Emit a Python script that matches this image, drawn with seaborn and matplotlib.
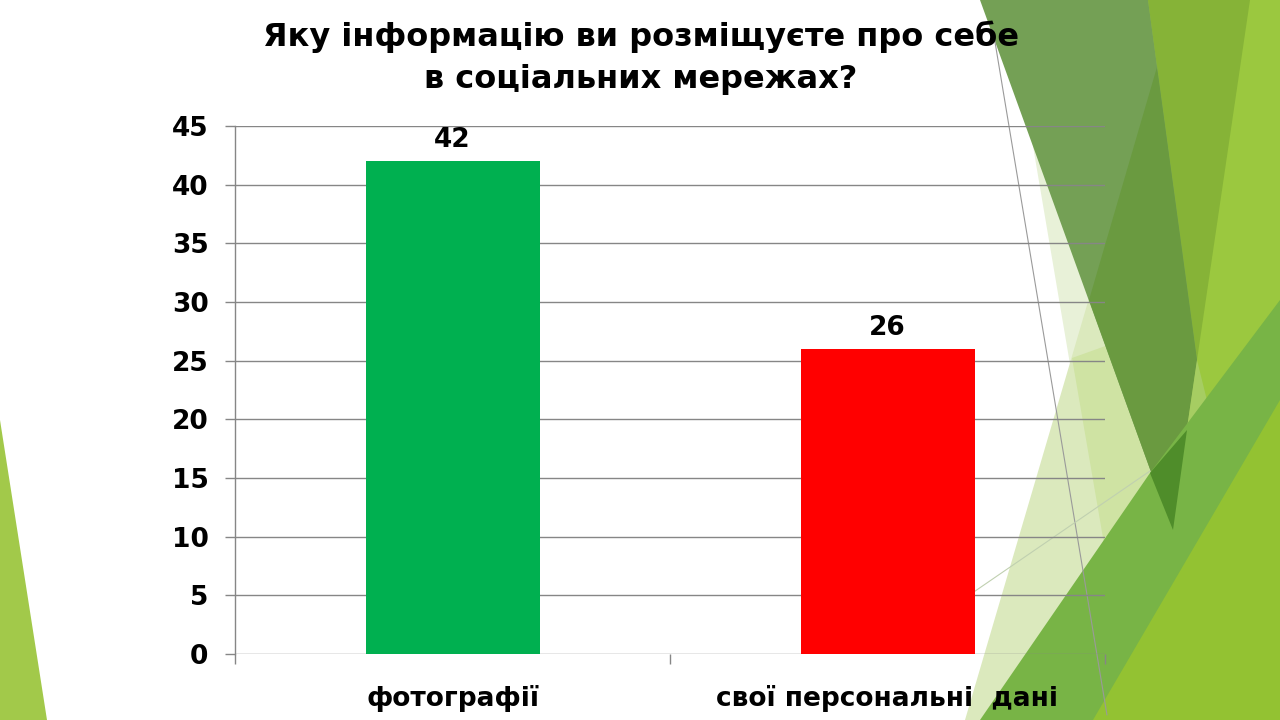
import matplotlib
matplotlib.use('Agg')
import matplotlib.pyplot as plt
from matplotlib.patches import Polygon
import seaborn as sns

title = 'Яку інформацію ви розміщуєте про себе\nв соціальних мережах?'
categories = ['фотографії', 'свої персональні  дані']
values = [42, 26]
bar_colors = ['#00b050', '#ff0000']
y_ticks = [0, 5, 10, 15, 20, 25, 30, 35, 40, 45]

sns.set_theme(style='white')
plt.rcParams['font.family'] = ['DejaVu Sans']

W, H = 1280, 720
fig = plt.figure(figsize=(12.8, 7.2), dpi=100)
fig.patch.set_facecolor('white')


def deco(pts, color, z, alpha=1.0):
    # slide background shapes, pixel coords with y going down
    xy = [(x / W, 1 - y / H) for x, y in pts]
    fig.add_artist(Polygon(xy, closed=True, transform=fig.transFigure,
                           facecolor=color, edgecolor='none', alpha=alpha, zorder=z))


# right-hand facets, painted back to front
deco([(1148, 0), (1280, 0), (1280, 720), (1100, 720)], '#9bc83f', -20)
deco([(1148, 0), (1250, 0), (1197, 360)], '#86b337', -19)
deco([(1015, 40), (1110, 600), (1170, 540), (1120, 250)], '#e8f1d8', -18)
deco([(1157, 67), (965, 720), (1090, 720), (1172, 530)], '#dbe9bd', -17)
deco([(1072, 358), (1112, 590), (1172, 530), (1150, 330)], '#cfe3a3', -17)
deco([(980, 0), (1148, 0), (1197, 360), (1172, 530)], '#74a055', -16)
deco([(1157, 67), (1089, 300), (1172, 530), (1197, 360)], '#6a9a40', -15)
deco([(1197, 360), (1225, 473), (1163, 590), (1172, 530)], '#a6cd62', -15)
deco([(980, 720), (1150, 473), (1280, 300), (1280, 720)], '#78b446', -14)
deco([(1150, 473), (1187, 430), (1173, 530)], '#4f8d2a', -13)
deco([(1093, 720), (1280, 400), (1280, 720)], '#93c232', -12)
# left sliver
deco([(0, 420), (47, 720), (0, 720)], '#a2c94a', -12)
# thin lines over the facets
fig.add_artist(plt.Line2D([993 / W, 1107 / W], [1 - 30 / H, 1 - 715 / H],
                          transform=fig.transFigure, color='#9a9a9a', lw=0.8, zorder=-10))
fig.add_artist(plt.Line2D([965 / W, 1150 / W], [1 - 598 / H, 1 - 471 / H],
                          transform=fig.transFigure, color='#c0d0b0', lw=0.8, zorder=-10))

ax = fig.add_axes([235 / W, 1 - 654 / H, 870 / W, 528 / H])
ax.set_facecolor('none')

sns.barplot(x=categories, y=values, hue=categories, palette=bar_colors,
            width=0.4, legend=False, ax=ax, zorder=3, saturation=1, linewidth=0)

ax.set_xlim(-0.5, 1.5)
ax.set_ylim(0, 45)
ax.set_yticks(y_ticks)
ax.yaxis.grid(True, color='#868686', lw=1)
ax.set_axisbelow(True)
for s in ['top', 'right', 'bottom']:
    ax.spines[s].set_visible(False)
ax.spines['left'].set_color('#868686')
ax.spines['left'].set_linewidth(1)

ax.tick_params(axis='y', length=7, width=1, color='#868686', pad=12,
               labelsize=19, left=True)
ax.set_xticks([-0.5, 0.5, 1.5], minor=True)
ax.tick_params(axis='x', which='minor', length=7, width=1, color='#868686', bottom=True)
ax.tick_params(axis='x', which='major', length=0, pad=22, labelsize=19)
for lab in ax.get_xticklabels() + ax.get_yticklabels():
    lab.set_fontweight('bold')
    lab.set_color('black')

for c in ax.containers:
    ax.bar_label(c, fontsize=19, fontweight='bold', padding=6, color='black')

ax.set_xlabel('')
ax.set_ylabel('')

fig.text(641 / W, 1 - 58 / H, title, ha='center', va='center', fontsize=23,
         fontweight='bold', linespacing=1.45, color='black')

fig.savefig('out.png', dpi=100)
